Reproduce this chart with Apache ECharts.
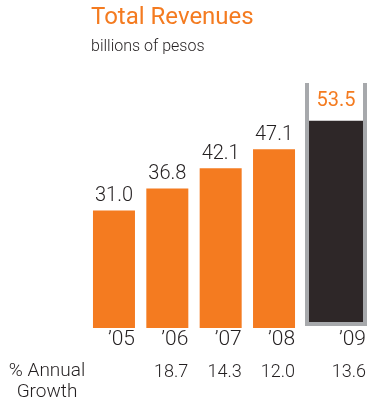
<!DOCTYPE html>
<html>
<head>
<meta charset="utf-8">
<script src="https://cdn.jsdelivr.net/npm/echarts@6/dist/echarts.min.js"></script>
<style>
  html, body { margin: 0; padding: 0; background: #ffffff; }
  #chart { width: 371px; height: 403px; }
</style>
</head>
<body>
<div id="chart"></div>
<script>
// Total revenues, billions of pesos
const years = ['\u201905', '\u201906', '\u201907', '\u201908', '\u201909'];
const revenues = [31.0, 36.8, 42.1, 47.1, 53.5];
const growth = [null, 18.7, 14.3, 12.0, 13.6];

const ORANGE = '#f47b20';
const DARK = '#2e2728';
const FRAME = '#a7a9ac';
const TEXT = '#231f20';
const FONT = 'Roboto';

// first four years in the main grid, the latest year in its own open-top frame
const pastYears = years.slice(0, 4);
const pastRevenues = revenues.slice(0, 4);
const pastGrowth = growth.slice(0, 4);
const lastYear = years.slice(4);
const lastRevenue = revenues.slice(4);
const lastGrowth = growth.slice(4);

const fmt = v => (v == null ? '' : Number(v).toFixed(1));

const frameLine = { show: true, onZero: false, lineStyle: { color: FRAME, width: 4, cap: 'square' } };

function catAxis(gridIndex, data, boxWidth, fontSize, margin, offset, line) {
  return {
    type: 'category',
    gridIndex: gridIndex,
    data: data,
    position: 'bottom',
    offset: offset,
    axisLine: line || { show: false },
    axisTick: { show: false },
    splitLine: { show: false },
    axisLabel: {
      interval: 0,
      margin: margin,
      formatter: v => '{t|' + v + '}',
      rich: {
        t: {
          width: boxWidth,
          align: 'right',
          fontFamily: FONT,
          fontWeight: 300,
          fontSize: fontSize,
          color: TEXT
        }
      }
    }
  };
}

function frameSide(position) {
  return {
    type: 'value', gridIndex: 1, position: position,
    min: -0.5, max: 63,
    axisLine: frameLine,
    axisTick: { show: false },
    axisLabel: { show: false },
    splitLine: { show: false }
  };
}

const chart = echarts.init(document.getElementById('chart'), null, { renderer: 'canvas' });

chart.setOption({
  animation: false,
  backgroundColor: '#ffffff',
  title: [
    {
      text: 'Total Revenues',
      left: 91, top: 6, padding: 0,
      textStyle: { color: ORANGE, fontFamily: FONT, fontWeight: 400, fontSize: 24 }
    },
    {
      text: 'billions of pesos',
      left: 91, top: 39, padding: 0,
      textStyle: { color: TEXT, fontFamily: FONT, fontWeight: 300, fontSize: 16 }
    },
    {
      text: '% Annual\nGrowth',
      left: 47, top: 361, padding: 0,
      textAlign: 'center',
      textStyle: { color: TEXT, fontFamily: FONT, fontWeight: 300, fontSize: 19, lineHeight: 21 }
    }
  ],
  grid: [
    { left: 87.3, right: 70.3, top: 89, bottom: 75 },
    { left: 307, right: 6, top: 85, bottom: 79 }
  ],
  xAxis: [
    catAxis(0, pastYears, 42, 21, 1, 0),
    catAxis(0, pastGrowth.map(fmt), 42, 18, 35, 0),
    catAxis(1, lastYear, 60, 21, 5, 0, frameLine),
    catAxis(1, lastGrowth.map(fmt), 60, 18, 39, 0)
  ],
  yAxis: [
    { type: 'value', gridIndex: 0, min: 0, max: 63, show: false },
    frameSide('left'),
    frameSide('right')
  ],
  series: [
    {
      type: 'bar',
      xAxisIndex: 0, yAxisIndex: 0,
      data: pastRevenues,
      barWidth: 42,
      itemStyle: { color: ORANGE },
      label: {
        show: true, position: 'top', distance: 4,
        formatter: p => fmt(p.value),
        fontFamily: FONT, fontWeight: 300, fontSize: 20, color: TEXT
      }
    },
    {
      type: 'bar',
      xAxisIndex: 2, yAxisIndex: 1,
      data: lastRevenue,
      barWidth: 54,
      itemStyle: { color: DARK },
      label: {
        show: true, position: 'top', distance: 10,
        formatter: p => fmt(p.value),
        fontFamily: FONT, fontWeight: 400, fontSize: 20, color: ORANGE
      }
    }
  ]
});
</script>
</body>
</html>
